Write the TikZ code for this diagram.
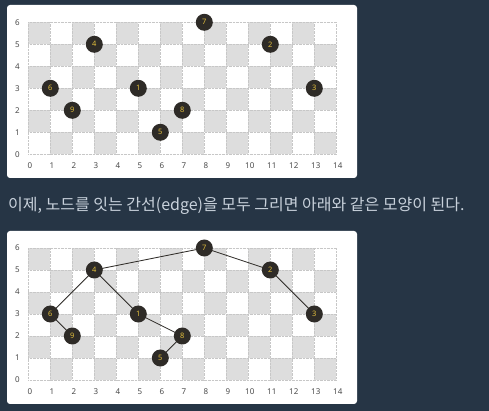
\documentclass[tikz,border=0pt]{standalone}
\usepackage{fontspec}
\setsansfont{Noto Sans}
\newfontfamily\krfont{Noto Sans CJK KR}
\usetikzlibrary{positioning}
\definecolor{pagebg}{HTML}{263545}
\definecolor{cellgray}{HTML}{DDDDDD}
\definecolor{nodeink}{HTML}{2E2B27}
\definecolor{nodetext}{HTML}{E2BE3C}
\definecolor{axisink}{HTML}{4A4A4A}
\definecolor{textink}{HTML}{C8D1DB}

\tikzset{
  panel/.style={fill=white, draw=none, rounded corners=3pt},
  cell/.style={fill=cellgray, draw=none},
  gridline/.style={draw=black!22, densely dotted, line width=0.4pt},
  vtx/.style={circle, fill=nodeink, minimum size=17pt, inner sep=0pt,
              text=nodetext, font=\sffamily\bfseries\fontsize{7.5}{8}\selectfont},
  axis/.style={text=axisink, font=\sffamily\fontsize{8}{9}\selectfont},
  link/.style={draw=nodeink, line width=0.8pt}
}

% checkerboard, axes and vertices of one panel
\newcommand{\boardpanel}[1]{%
  \foreach \i in {0,...,13} \foreach \j in {0,...,5} {
    \pgfmathtruncatemacro{\odd}{mod(\i+\j,2)}
    \ifnum\odd=1 \fill[cell] (\i*22,\j*22) rectangle ++(22,22); \fi
  }
  \foreach \i in {0,...,14} \draw[gridline] (\i*22,0) -- (\i*22,132);
  \foreach \j in {0,...,6} \draw[gridline] (0,\j*22) -- (308,\j*22);
  \foreach \i in {0,...,14} \node[axis] (#1x\i) at (\i*22+1.5,-11.5) {\i};
  \foreach \j in {0,...,6} \node[axis] (#1y\j) at (-11,\j*22) {\j};
  \foreach \name/\px/\py in {7/8/6, 4/3/5, 2/11/5, 6/1/3, 1/5/3, 3/13/3, 9/2/2, 8/7/2, 5/6/1}
    \coordinate (#1c\name) at (\px*22,\py*22);
}

\begin{document}
\begin{tikzpicture}[x=1pt, y=1pt]
\fill[pagebg] (0,0) rectangle (489,411);
\useasboundingbox (0,0) rectangle (489,411);

% upper panel
\fill[panel] (7,233) rectangle (357,406);
\begin{scope}[shift={(28.3,256.7)}]
  \boardpanel{a}
  \foreach \name in {7,4,2,6,1,3,9,8,5}
    \node[vtx] (a\name) at (ac\name) {\name};
\end{scope}

% caption
\node[anchor=west, text=textink, font=\krfont\fontsize{16}{18}\selectfont, inner sep=0pt]
  (caption) at (8,205) {이제, 노드를 잇는 간선(edge)을 모두 그리면 아래와 같은 모양이 된다.};

% lower panel
\fill[panel] (7,7) rectangle (357,180);
\begin{scope}[shift={(28.3,31)}]
  \boardpanel{b}
  \draw[link] (bc7) -- (bc4);
  \draw[link] (bc7) -- (bc2);
  \draw[link] (bc4) -- (bc6);
  \draw[link] (bc4) -- (bc1);
  \draw[link] (bc6) -- (bc9);
  \draw[link] (bc1) -- (bc8);
  \draw[link] (bc8) -- (bc5);
  \draw[link] (bc2) -- (bc3);
  \foreach \name in {7,4,2,6,1,3,9,8,5}
    \node[vtx] (b\name) at (bc\name) {\name};
\end{scope}
\end{tikzpicture}
\end{document}
